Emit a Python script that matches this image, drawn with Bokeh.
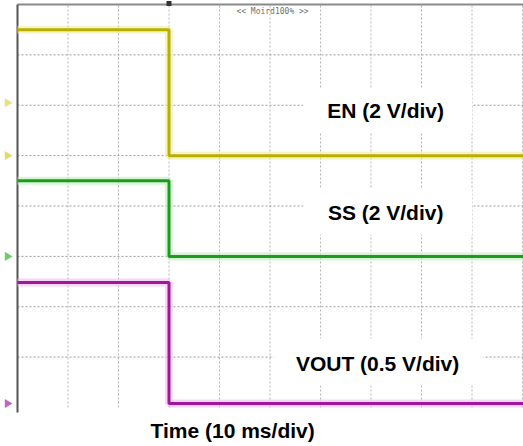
from bokeh.plotting import figure
from bokeh.models import Range1d
from bokeh.core.properties import value
from bokeh.embed import file_html
from bokeh.resources import INLINE

# ---- data (time in ms, levels in volts) ----
time_ms = [0.0, 30.0, 30.0, 100.5]
en_volts = [5.0, 5.0, 0.0, 0.0]
ss_volts = [3.0, 3.0, 0.0, 0.0]
vout_volts = [1.2, 1.2, 0.0, 0.0]

# channel settings: volts per division and ground offset (divisions)
en_scale, en_offset = 2.0, 5.0
ss_scale, ss_offset = 2.0, 3.0
vout_scale, vout_offset = 0.5, 0.08
trig_level_div = 6.05

labels = ["EN (2 V/div)", "SS (2 V/div)", "VOUT (0.5 V/div)"]
x_label = "Time (10 ms/div)"
status_text = "<< Moird100% >>"

h_div = list(range(0, 11))      # time divisions (10 ms each)
v_div = list(range(0, 9))       # vertical divisions

ms_per_div = 10.0
px_x = 50.5
px_y = 50.375

W, H = 523, 446
x0_px, y_top_px, y_bot_px = 17, 4, 407

x_start = -x0_px / px_x * ms_per_div
x_end = (W - x0_px) / px_x * ms_per_div
y_end = 8 + y_top_px / px_y
y_start = -(H - y_bot_px) / px_y

p = figure(width=W, height=H, output_backend="svg", toolbar_location=None,
           x_range=Range1d(x_start, x_end), y_range=Range1d(y_start, y_end),
           min_border=0, x_axis_type=None, y_axis_type=None)
p.outline_line_color = None
p.grid.visible = False
p.background_fill_color = "white"
p.border_fill_color = "white"

# grid lines
gx = [d * ms_per_div for d in h_div[1:]]
p.segment(x0=gx, y0=[0] * len(gx), x1=gx, y1=[8] * len(gx),
          line_color="#b5b5b5", line_dash="2 2", line_width=1)
gy = v_div[1:-1]
p.segment(x0=[0] * len(gy), y0=gy, x1=[x_end] * len(gy), y1=gy,
          line_color="#9a9a9a", line_dash="2 2", line_width=1)
# top border
p.segment(x0=[0], y0=[8], x1=[x_end], y1=[8], line_color="#8a8a8a", line_width=2)
# left axis line
p.segment(x0=[0], y0=[8], x1=[0], y1=[-0.1], line_color="#555555", line_width=2)
# trigger position marker
p.rect(x=[30.0], y=[8.02], width=5, height=5, width_units="screen",
       height_units="screen", fill_color="#333333", line_color=None)

# label boxes (white)
p.quad(left=[56.6, 56.6, 50.7], right=[90.0, 90.0, 92.2],
       top=[6.33, 4.35, 1.37], bottom=[5.45, 3.43, 0.44],
       fill_color="white", line_color=None)

def to_div(vals, scale, offset):
    return [v / scale + offset for v in vals]

traces = [
    (en_volts, en_scale, en_offset, "#b8b000", "#efec9c"),
    (ss_volts, ss_scale, ss_offset, "#1d9b1d", "#bdeebb"),
    (vout_volts, vout_scale, vout_offset, "#a0169c", "#f0bdee"),
]
for vals, sc, off, col, halo in traces:
    ys = to_div(vals, sc, off)
    p.line(time_ms, ys, line_color=halo, line_width=8, line_alpha=0.6)
    p.line(time_ms, ys, line_color=col, line_width=3)

# ground / trigger markers on the left
mk_y = [trig_level_div, en_offset, ss_offset, vout_offset]
mk_c = ["#e0dc60", "#d8d440", "#48c048", "#b040b0"]
p.scatter(x=[-2.0] * 4, y=mk_y, marker="triangle", angle=-1.5708, size=9,
          fill_color=mk_c, line_color=None, fill_alpha=0.8)

# status text
p.text(x=[50.5], y=[7.86], text=[status_text], text_font=value("DejaVu Sans Mono"),
       text_font_size="8px", text_color="#707070", text_align="center",
       text_baseline="middle")

# channel labels
p.text(x=[72.9, 72.9, 71.3], y=[5.9, 3.87, 0.87], text=labels,
       text_font=value("Liberation Sans"), text_font_style="bold",
       text_font_size="21px", text_color="black", text_align="center",
       text_baseline="middle")
p.text(x=[42.6], y=[-0.46], text=[x_label],
       text_font=value("Liberation Sans"), text_font_style="bold",
       text_font_size="21px", text_color="black", text_align="center",
       text_baseline="middle")

open("out.html", "w").write(file_html(p, INLINE))
